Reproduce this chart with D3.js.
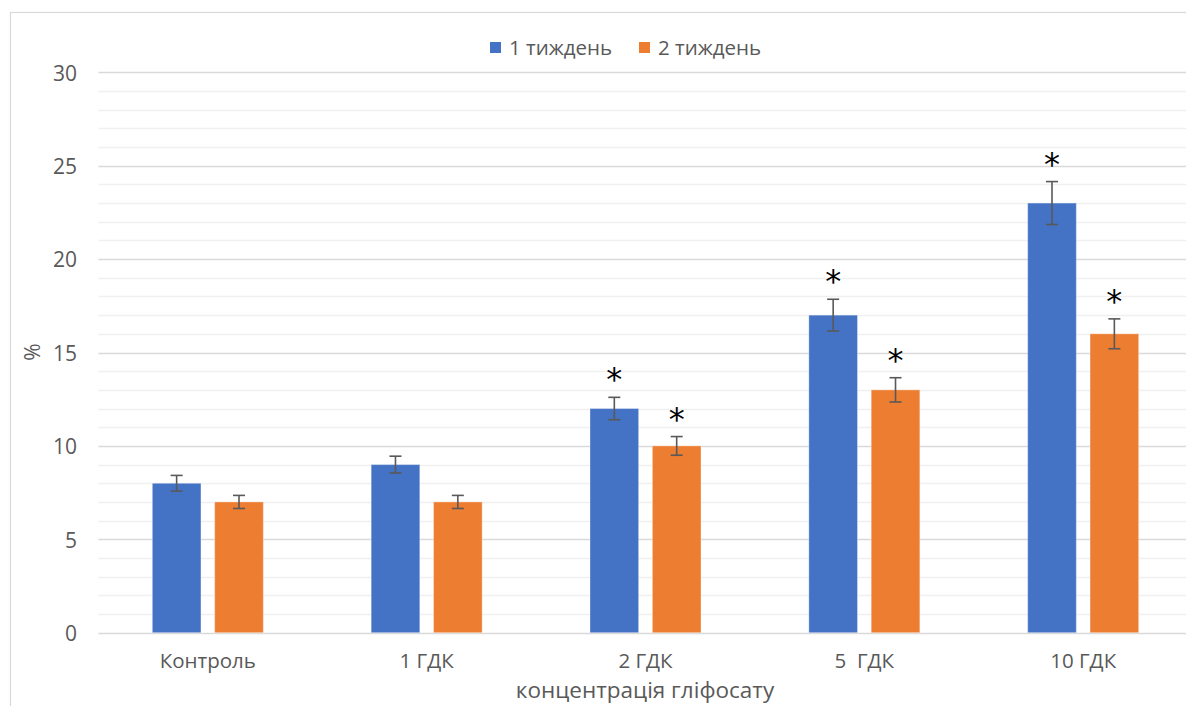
<!DOCTYPE html>
<html lang="uk">
<head>
<meta charset="utf-8">
<script src="https://cdn.jsdelivr.net/npm/d3@7"></script>
<style>
  html, body { margin: 0; padding: 0; background: #fff; }
  svg { display: block; font-family: "Open Sans", "Noto Sans", sans-serif; }
  svg text { white-space: pre; }
</style>
</head>
<body>
<svg id="chart" width="1186" height="706"></svg>
<script>
// Частка клітин (%) за різних концентрацій гліфосату
const categories = ["Контроль", "1 ГДК", "2 ГДК", "5  ГДК", "10 ГДК"];
const seriesNames = ["1 тиждень", "2 тиждень"];
const week1 = [8, 9, 12, 17, 23];
const week2 = [7, 7, 10, 13, 16];
const week1Err = [0.42, 0.45, 0.6, 0.85, 1.15];
const week2Err = [0.35, 0.35, 0.5, 0.65, 0.8];
// вірогідна різниця з контролем
const week1Sig = [false, false, true, true, true];
const week2Sig = [false, false, true, true, true];
const yTicks = [0, 5, 10, 15, 20, 25, 30];
const yTitle = "%";
const xTitle = "концентрація гліфосату";

const colors = ["#4472C4", "#ED7D31"];
const textColor = "#595959";

const svg = d3.select("#chart");
const W = 1186, H = 706;

// chart frame
svg.append("rect")
  .attr("x", 10.5).attr("y", 12.5)
  .attr("width", W + 20).attr("height", H + 20)
  .attr("fill", "#fff").attr("stroke", "#d9d9d9").attr("stroke-width", 1.2);

const plot = { left: 98.4, right: 1192.6, top: 72.3, bottom: 632.7 };

const x = d3.scaleBand().domain(categories).range([plot.left, plot.right]).padding(0);
const groupW = 111;
const xs = d3.scaleBand().domain([0, 1]).range([-groupW / 2, groupW / 2]).paddingInner(0.22).paddingOuter(0);
const y = d3.scaleLinear().domain([0, 30]).range([plot.bottom, plot.top]);

// minor gridlines
svg.append("g").selectAll("line")
  .data(d3.range(1, 30).filter(v => v % 5 !== 0))
  .join("line")
  .attr("x1", plot.left).attr("x2", W)
  .attr("y1", d => Math.round(y(d)) + 0.5).attr("y2", d => Math.round(y(d)) + 0.5)
  .attr("stroke", "#f0f0f0").attr("stroke-width", 1.3);

// major gridlines
svg.append("g").selectAll("line")
  .data(yTicks)
  .join("line")
  .attr("x1", plot.left).attr("x2", W)
  .attr("y1", d => Math.round(y(d)) + 0.5).attr("y2", d => Math.round(y(d)) + 0.5)
  .attr("stroke", "#d9d9d9").attr("stroke-width", 1.3);

// y axis labels
const yAxis = d3.axisLeft(y).tickValues(yTicks).tickSize(0).tickPadding(0);
const yg = svg.append("g").attr("transform", `translate(77,1)`).call(yAxis);
yg.select(".domain").remove();
yg.selectAll("text").attr("fill", textColor).attr("font-size", 21)
  .attr("font-family", "'Open Sans', sans-serif");

// x axis labels
const xAxis = d3.axisBottom(x).tickSize(0).tickPadding(0);
const xg = svg.append("g").attr("transform", `translate(0,653)`).call(xAxis);
xg.select(".domain").remove();
xg.selectAll("text").attr("fill", textColor).attr("font-size", 20.5)
  .attr("font-family", "'Open Sans', sans-serif");

// bars, error bars and significance marks
const series = [
  { vals: week1, err: week1Err, sig: week1Sig },
  { vals: week2, err: week2Err, sig: week2Sig }
];

series.forEach((s, si) => {
  const data = categories.map((c, i) => ({ c, v: s.vals[i], e: s.err[i], sig: s.sig[i] }));
  const g = svg.append("g");
  const cx = d => x(d.c) + x.bandwidth() / 2 + xs(si) + xs.bandwidth() / 2;

  g.selectAll("rect").data(data).join("rect")
    .attr("x", d => x(d.c) + x.bandwidth() / 2 + xs(si))
    .attr("y", d => y(d.v))
    .attr("width", xs.bandwidth())
    .attr("height", d => y(0) - y(d.v))
    .attr("fill", colors[si])
    .attr("stroke", "rgba(255,255,255,0.35)").attr("stroke-width", 1);

  const eb = g.append("g").attr("stroke", "#595959").attr("stroke-width", 1.6);
  eb.selectAll(".stem").data(data).join("line").attr("class", "stem")
    .attr("x1", cx).attr("x2", cx)
    .attr("y1", d => y(d.v + d.e)).attr("y2", d => y(d.v - d.e));
  eb.selectAll(".capT").data(data).join("line").attr("class", "capT")
    .attr("x1", d => cx(d) - 6).attr("x2", d => cx(d) + 6)
    .attr("y1", d => y(d.v + d.e)).attr("y2", d => y(d.v + d.e));
  eb.selectAll(".capB").data(data).join("line").attr("class", "capB")
    .attr("x1", d => cx(d) - 6).attr("x2", d => cx(d) + 6)
    .attr("y1", d => y(d.v - d.e)).attr("y2", d => y(d.v - d.e));

  g.selectAll(".sig").data(data.filter(d => d.sig)).join("text").attr("class", "sig")
    .attr("x", cx)
    .attr("y", d => y(d.v + d.e) - 7)
    .attr("text-anchor", "middle")
    .attr("font-size", 32)
    .attr("font-family", "'DejaVu Sans', sans-serif")
    .attr("fill", "#000")
    .text("*");
});

// axis titles
svg.append("text")
  .attr("transform", "translate(40,352) rotate(-90)")
  .attr("text-anchor", "middle")
  .attr("fill", textColor).attr("font-size", 21)
  .text(yTitle);

svg.append("text")
  .attr("x", 645).attr("y", 698)
  .attr("text-anchor", "middle")
  .attr("fill", textColor).attr("font-size", 22.5)
  .text(xTitle);

// legend
const legend = svg.append("g");
const legendX = [490, 639];
seriesNames.forEach((name, i) => {
  legend.append("rect")
    .attr("x", legendX[i]).attr("y", 42).attr("width", 11).attr("height", 11)
    .attr("fill", colors[i]);
  legend.append("text")
    .attr("x", legendX[i] + 19).attr("y", 55)
    .attr("fill", textColor).attr("font-size", 20.5)
    .text(name);
});
</script>
</body>
</html>
